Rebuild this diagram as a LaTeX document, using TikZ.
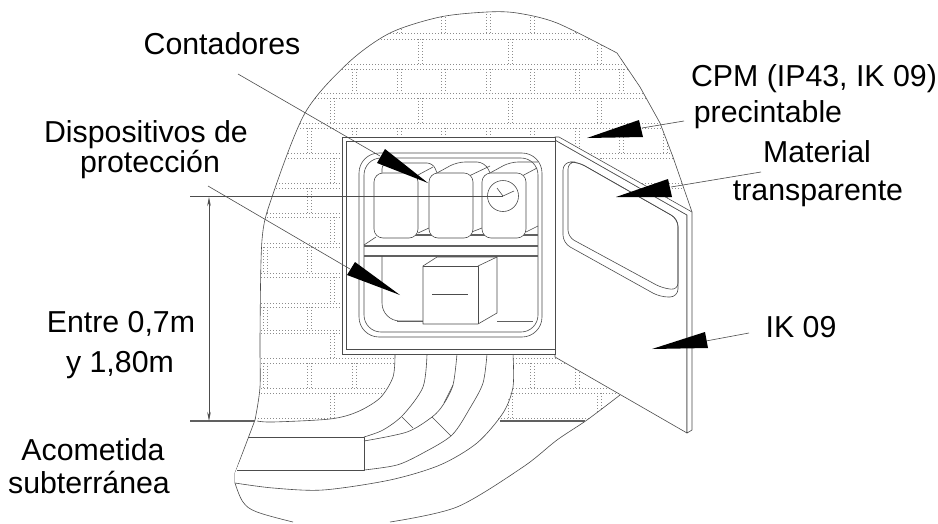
\documentclass[tikz,border=0pt]{standalone}
\usepackage{fontspec}
\setmainfont{Liberation Sans}
\usetikzlibrary{arrows.meta}
\definecolor{ln}{gray}{0.3}
\definecolor{br}{gray}{0.55}
\tikzset{
 lab/.style={font=\fontsize{30.3}{30}\selectfont,anchor=base,text=black,inner sep=0pt},
 ink/.style={draw=ln,line width=0.6pt,line join=round},
 heavy/.style={draw=gray!75!black,line width=1.1pt},
 mortar/.style={draw=br,line width=0.5pt,dash pattern=on 1.3pt off 1.7pt},
 leader/.style={draw=ln,line width=0.6pt},
 wedge/.style={fill=black,draw=none}
}
\begin{document}
\begin{tikzpicture}[x=1pt,y=-1pt]
\useasboundingbox (0,0) rectangle (938,523);
\fill[white] (0,0) rectangle (938,523);
% bricks clipped to wall
\begin{scope}
\clip plot[smooth,tension=0.5] coordinates {(255,420)(260,387)(260,337)(262,240)(272,197)(305,113)(348,63)(390,33)(440,17)(487,12)(517,13)(557,23)(617,53)} -- (640,87) -- (660,123) -- (673,157) -- (692,212) -- (692,430) -- (620,395) -- (587,420) -- cycle;
\foreach \t/\b/\k in {8/33/0,39/64/1,69/93/0,98/123/1,128/153/0,158/183/1,188/213/0,217/243/1,247/273/0,277/303/1,307/330/0,333/358/1,363/388/0,393/418/1}{
  \draw[mortar] (240,\t) -- (700,\t);
  \draw[mortar] (240,\b) -- (700,\b);
  \ifnum\k=0
    \foreach \x in {263,307,352,397,441,486,530,575,619,663}{
      \draw[mortar] (\x,\t) -- (\x,\b);
      \draw[mortar] (\x+4,\t) -- (\x+4,\b);}
  \else
    \foreach \x in {330,418,508,597,686}{
      \draw[mortar] (\x,\t) -- (\x,\b);
      \draw[mortar] (\x+4,\t) -- (\x+4,\b);}
  \fi
}
\end{scope}
% wall outline
\draw[ink] plot[smooth,tension=0.5] coordinates {(255,420)(260,387)(260,337)(262,240)(272,197)(305,113)(348,63)(390,33)(440,17)(487,12)(517,13)(557,23)(617,53)} -- (640,87) -- (660,123) -- (673,157) -- (692,212);
\draw[ink] (255,420) -- (235,473) -- (235,483);
\draw[ink] plot[smooth,tension=0.6] coordinates {(235,483)(243,502)(257,512)(293,522)};
\draw[ink] plot[smooth,tension=0.5] coordinates {(390,522)(457,507)(523,467)(557,440)(587,420)(620,395)};
% conduits
\fill[white] (395,354) -- (393,377) -- (380,398) -- (357,412) -- (330,419) -- (257,421) -- (235,473) -- (235,483) -- (273,488) -- (323,490) -- (390,480) -- (440,465) -- (477,443) -- (503,413) -- (513,387) -- (513,354) -- cycle;
\draw[ink] plot[smooth,tension=0.5] coordinates {(395,354)(393,377)(380,398)(357,412)(330,419)(273,422)(257,421)};
\draw[ink] plot[smooth,tension=0.5] coordinates {(427,354)(423,387)(403,415)(383,430)(364,437)};
\draw[ink] plot[smooth,tension=0.5] coordinates {(457,354)(453,385)(443,405)(432,417)(407,432)(364,441)};
\draw[ink] (453,385) -- (444,403);
\draw[ink] plot[smooth,tension=0.5] coordinates {(487,354)(483,383)(470,408)(452,435)(423,453)(397,465)(364,470)};
\draw[ink] plot[smooth,tension=0.5] coordinates {(513,354)(513,387)(503,413)(477,443)(440,465)(390,480)(323,490)(273,488)(235,483)};
\draw[ink] (248,437) -- (364,437) -- (364,470) -- (237,470);
\draw[ink] (402,417) -- (413,428);
\draw[ink] (432,417) -- (451,436);
% ground line
\draw[heavy] (500,421) -- (585,421);
% door
\filldraw[ink,fill=white] (555,140) -- (687,215) -- (687,433) -- (555,357) -- cycle;
\filldraw[ink,fill=white] (555,137) -- (559,137) -- (692,212) -- (692,430) -- (687,433) -- (687,215) -- (555,140) -- cycle;
\draw[ink,rounded corners=8pt] (563,162) -- (578,162) -- (678,219) -- (678,297) -- (660,297) -- (563,243) -- cycle;
\draw[ink,rounded corners=7pt] (568,162) -- (578,162) -- (678,219) -- (678,290) -- (662,288) -- (568,237) -- cycle;
% frame
\filldraw[draw=gray!60!black,line width=0.8pt,fill=white] (342,137) rectangle (555,354);
\draw[draw=gray!60!black,line width=0.8pt] (346,141) rectangle (555,349);
\draw[ink,rounded corners=20pt] (359,153) -- (542,153) -- (542,337) -- (359,337) -- cycle;
\draw[ink,rounded corners=17pt] (364,158) -- (538,158) -- (538,332) -- (364,332) -- cycle;
% shelf
\draw[heavy] (364,246) -- (538,246);
\draw[heavy] (364,256) -- (538,256);
\draw[heavy] (415,235) -- (538,235);
\draw[ink] (364,245) -- (376,237);
% meters
\draw[ink,rounded corners=6pt] (382,173) -- (382,163) -- (433,163) -- (437,173);
\draw[ink] (418,175) -- (433,167);
\draw[ink] (418,233) -- (429,228);
\draw[ink,rounded corners=8pt] (437,173) -- (457,162) -- (485,162) -- (490,173);
\draw[ink] (469,176) -- (490,166);
\draw[ink] (469,233) -- (482,228);
\draw[ink,rounded corners=8pt] (490,173) -- (510,162) -- (538,162);
\draw[ink] (522,176) -- (537,168);
\draw[ink] (526,232) -- (538,226);
\filldraw[ink,fill=white,rounded corners=9pt] (374,173) rectangle (418,238);
\filldraw[ink,fill=white,rounded corners=9pt] (429,173) rectangle (473,238);
\filldraw[ink,fill=white,rounded corners=9pt] (482,173) rectangle (526,238);
\draw[ink] (503,196) circle (15.5);
\draw[ink] (503,196) -- (497,188);
\draw[ink] (503,196) -- (514,191);
% protection box and its back
\draw[ink,rounded corners=18pt] (382,256) -- (382,321) -- (425,321);
\draw[heavy,line width=0.9pt] (397,321) -- (423,321);
\draw[heavy,line width=0.9pt] (497,321) -- (533,321);
\filldraw[ink,fill=white] (423,266) -- (437,257) -- (497,257) -- (497,313) -- (478,324) -- (423,324) -- cycle;
\draw[ink] (423,266) -- (478,266) -- (478,324);
\draw[ink] (478,266) -- (497,257);
\draw[draw=ln,line width=1pt] (432,294) -- (468,294);
% leaders and wedges
\coordinate (contStart) at (238,74);
\coordinate (contTip) at (428,183);
\coordinate (protStart) at (208,186);
\coordinate (protTip) at (400,295);
\coordinate (dimTop) at (209,197);
\coordinate (dimBot) at (209,421);
\coordinate (clockC) at (503,196);
\coordinate (dimL) at (190,196);
\coordinate (gndL) at (190,421);
\coordinate (gndR) at (255,421);
\coordinate (cpmStart) at (684,121);
\coordinate (matStart) at (761,172);
\coordinate (ikStart) at (749,333);
\draw[leader] (contStart) -- (380,156);
\fill[wedge] (contTip) -- (385,149) -- (377,163) -- cycle;
\draw[leader] (protStart) -- (350,269);
\fill[wedge] (protTip) -- (355,262) -- (347,275) -- cycle;
\draw[leader] (cpmStart) -- (642,128);
\fill[wedge] (587,138) -- (639,120) -- (643,137) -- cycle;
\draw[leader] (matStart) -- (671,187);
\fill[wedge] (616,197) -- (668,179) -- (672,197) -- cycle;
\draw[leader] (ikStart) -- (706,341);
\fill[wedge] (652,349) -- (705,332) -- (708,348) -- cycle;
\draw[leader] (dimL) -- (clockC);
\draw[heavy] (gndL) -- (gndR);
\draw[leader,{Stealth[length=9pt,width=3.5pt]}-{Stealth[length=9pt,width=3.5pt]}] (dimTop) -- (dimBot);
% labels
\node[lab] (cont) at (222,54) {Contadores};
\node[lab] (cpm) at (814,86) {CPM (IP43, IK 09)};
\node[lab] (prec) at (768,122) {precintable};
\node[lab] (mate) at (817,162) {Material};
\node[lab] (tran) at (818,200) {transparente};
\node[lab] (disp) at (146,142) {Dispositivos de};
\node[lab] (prot) at (150,172) {protección};
\node[lab] (entre) at (121,332) {Entre 0,7m};
\node[lab] (ysub) at (120,372) {y 1,80m};
\node[lab] (acom) at (93,460) {Acometida};
\node[lab] (subt) at (89,493) {subterránea};
\node[lab] (ik) at (801,337) {IK 09};
\end{tikzpicture}
\end{document}
